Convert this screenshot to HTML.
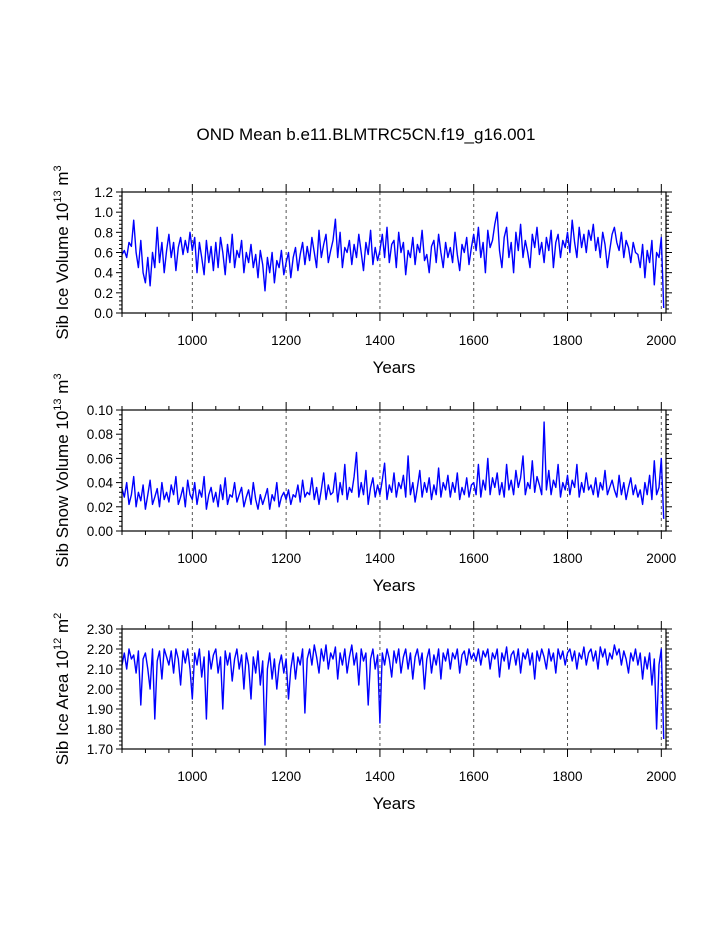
<!DOCTYPE html>
<html><head><meta charset="utf-8"><style>
body{margin:0;background:#fff}
svg{display:block;font-family:"Liberation Sans",sans-serif}
</style></head><body>
<svg id="chart" width="723" height="935" xmlns="http://www.w3.org/2000/svg">
<text x="366" y="140" font-size="17" text-anchor="middle">OND Mean b.e11.BLMTRC5CN.f19_g16.001</text>
</svg>
<script>
const years0 = 850, yearStep = 5;
const xTicks = [1000,1200,1400,1600,1800,2000];
const iceVolume = [.58,.62,.55,.70,.66,.92,.60,.45,.72,.40,
.30,.55,.27,.60,.45,.85,.50,.70,.40,.62,
.78,.55,.70,.42,.65,.75,.58,.72,.60,.80,
.62,.75,.40,.70,.55,.38,.72,.50,.66,.42,
.70,.45,.75,.60,.38,.68,.50,.78,.45,.62,
.55,.72,.40,.60,.50,.68,.45,.58,.35,.62,
.48,.22,.55,.40,.60,.30,.52,.45,.62,.38,
.50,.60,.35,.55,.65,.42,.58,.70,.48,.66,
.52,.75,.60,.45,.82,.55,.68,.78,.50,.62,
.72,.93,.55,.80,.45,.65,.60,.72,.48,.68,
.55,.78,.60,.42,.70,.58,.82,.48,.65,.52,
.62,.78,.55,.85,.50,.68,.72,.45,.80,.60,
.70,.38,.62,.55,.75,.48,.68,.60,.82,.52,
.58,.40,.66,.72,.50,.78,.60,.45,.70,.55,
.65,.50,.80,.58,.42,.68,.60,.75,.48,.65,
.78,.62,.85,.55,.70,.40,.82,.65,.72,.88,
1.0,.62,.45,.75,.85,.55,.70,.40,.80,.62,
.88,.55,.72,.60,.45,.78,.65,.85,.58,.70,
.50,.75,.62,.82,.45,.70,.78,.55,.72,.65,
.80,.60,.92,.70,.55,.85,.65,.78,.60,.82,
.72,.88,.62,.75,.55,.80,.68,.45,.62,.78,
.85,.70,.62,.80,.55,.72,.65,.50,.70,.60,
.58,.45,.68,.35,.62,.50,.72,.28,.60,.55,
.75,.05];
const snowVolume = [.035,.028,.040,.022,.030,.045,.020,.032,.025,.038,
.018,.030,.042,.022,.028,.035,.020,.040,.026,.032,
.024,.038,.030,.045,.022,.028,.036,.020,.042,.030,
.026,.040,.022,.034,.028,.045,.018,.030,.036,.024,
.032,.020,.038,.026,.044,.022,.030,.028,.040,.024,
.030,.036,.020,.028,.034,.022,.040,.026,.018,.030,
.022,.028,.035,.018,.030,.025,.040,.020,.028,.032,
.026,.034,.022,.030,.028,.038,.024,.042,.028,.032,
.030,.044,.026,.036,.022,.034,.048,.026,.038,.030,
.032,.048,.024,.040,.030,.055,.026,.036,.032,.045,
.065,.028,.040,.030,.050,.022,.036,.044,.028,.038,
.030,.042,.056,.026,.038,.032,.048,.028,.040,.035,
.046,.028,.062,.030,.040,.024,.036,.050,.028,.040,
.032,.044,.026,.038,.030,.052,.028,.040,.034,.046,
.028,.040,.032,.048,.026,.036,.030,.044,.028,.038,
.040,.030,.055,.028,.042,.034,.060,.030,.044,.036,
.048,.030,.040,.028,.055,.034,.042,.030,.050,.036,
.044,.062,.030,.040,.035,.058,.032,.045,.038,.030,
.090,.034,.050,.030,.042,.036,.055,.028,.040,.034,
.046,.030,.042,.036,.055,.028,.040,.032,.048,.034,
.038,.030,.044,.028,.040,.034,.050,.030,.036,.042,
.034,.028,.046,.030,.040,.026,.036,.044,.030,.038,
.028,.034,.022,.040,.030,.046,.026,.058,.030,.036,
.060,.010];
const iceArea = [2.12,2.18,2.10,2.20,2.15,2.17,2.08,2.19,1.92,2.15,
2.18,2.10,2.00,2.20,1.85,2.14,2.19,2.05,2.20,2.16,
2.12,2.19,2.08,2.20,2.15,2.02,2.19,2.13,2.20,2.10,
1.95,2.18,2.12,2.20,2.06,2.16,1.85,2.19,2.10,2.17,
2.20,2.08,2.16,1.90,2.19,2.12,2.18,2.04,2.15,2.20,
2.10,2.17,2.00,2.18,2.12,1.95,2.16,2.08,2.19,2.02,
2.14,1.72,2.10,2.18,2.05,2.15,2.00,2.12,2.17,2.08,
2.15,1.95,2.10,2.18,2.05,2.16,2.12,2.20,1.88,2.15,
2.20,2.12,2.22,2.16,2.08,2.20,2.14,2.22,2.10,2.18,
2.15,2.21,2.05,2.18,2.12,2.20,2.08,2.16,2.22,2.12,
2.18,2.02,2.20,2.14,2.18,1.92,2.15,2.20,2.10,2.17,
1.83,2.18,2.12,2.20,2.15,2.06,2.19,2.13,2.20,2.08,
2.16,2.20,2.10,2.18,2.05,2.16,2.20,2.12,2.18,2.00,
2.15,2.20,2.08,2.17,2.12,2.20,2.05,2.18,2.14,2.20,
2.10,2.18,2.15,2.20,2.08,2.17,2.19,2.12,2.20,2.15,
2.18,2.14,2.20,2.12,2.19,2.16,2.20,2.10,2.18,2.15,
2.20,2.06,2.18,2.14,2.21,2.10,2.17,2.19,2.12,2.20,
2.08,2.18,2.15,2.20,2.12,2.18,2.05,2.19,2.14,2.20,
2.16,2.10,2.20,2.14,2.18,2.08,2.20,2.15,2.19,2.12,
2.18,2.20,2.14,2.19,2.10,2.18,2.15,2.21,2.12,2.18,
2.20,2.14,2.19,2.10,2.21,2.16,2.20,2.12,2.18,2.15,
2.22,2.17,2.20,2.12,2.19,2.15,2.08,2.18,2.14,2.20,
2.12,2.18,2.05,2.16,2.10,2.18,2.02,2.15,1.80,2.12,
2.20,1.75];
const yTicks1 = ["0.0","0.2","0.4","0.6","0.8","1.0","1.2"];
const yTicks2 = ["0.00","0.02","0.04","0.06","0.08","0.10"];
const yTicks3 = ["1.70","1.80","1.90","2.00","2.10","2.20","2.30"];

const NS="http://www.w3.org/2000/svg";
const svg=document.getElementById('chart');
const X0=122,X1=666,XMIN=850,XMAX=2010;
function xs(v){return X0+(v-XMIN)/(XMAX-XMIN)*(X1-X0);}
function mk(tag,attrs,parent){const e=document.createElementNS(NS,tag);for(const k in attrs)e.setAttribute(k,attrs[k]);(parent||svg).appendChild(e);return e;}

function panel(name,top,bot,ticks,data,titleMain,unitExp,unit,ylab){
  const g=mk('g',{});
  
  
  const ymin=parseFloat(ticks[0]),ymax=parseFloat(ticks[ticks.length-1]);
  const ys=v=>bot-(v-ymin)/(ymax-ymin)*(bot-top);
  xTicks.forEach(t=>{
    const l=mk('line',{x1:xs(t),x2:xs(t),y1:top,y2:bot,stroke:'#555','stroke-width':1,'stroke-dasharray':'3,3'},g);
    
    
  });
  let d='';
  data.forEach((v,i)=>{d+=(i?'L':'M')+xs(years0+i*yearStep).toFixed(1)+','+ys(v).toFixed(1);});
  const p=mk('path',{d:d,fill:'none',stroke:'#0000ff','stroke-width':1.4,'stroke-linejoin':'round'},g);
  
  
  const f=mk('rect',{x:X0,y:top,width:X1-X0,height:bot-top,fill:'none',stroke:'#000','stroke-width':1.2},g);
  
  
  for(let t=850;t<=2010;t+=50){
    const major=t%200===0, len=major?8:4;
    mk('line',{x1:xs(t),x2:xs(t),y1:top,y2:top-len,stroke:'#000','stroke-width':1},g);
    mk('line',{x1:xs(t),x2:xs(t),y1:bot,y2:bot+len,stroke:'#000','stroke-width':1},g);
  }
  xTicks.forEach(t=>{
    const tx=mk('text',{x:xs(t),y:bot+32,'font-size':13.5,'text-anchor':'middle'},g);
    tx.textContent=t;
    
    
  });
  const n=ticks.length-1, sub=(ymax-ymin)/n/5;
  for(let k=0;k<=n*5;k++){
    const v=ymin+k*sub, y=ys(v), len=k%5===0?6:3;
    mk('line',{x1:X0,x2:X0-len,y1:y,y2:y,stroke:'#000','stroke-width':1},g);
    mk('line',{x1:X1,x2:X1+len,y1:y,y2:y,stroke:'#000','stroke-width':1},g);
  }
  ticks.forEach(t=>{
    const tx=mk('text',{x:X0-9,y:ys(parseFloat(t))+5,'font-size':13.5,'text-anchor':'end'},g);
    tx.textContent=t;
    
    
  });
  const xt=mk('text',{x:394,y:bot+60,'font-size':17,'text-anchor':'middle'},g);
  xt.textContent='Years';
  
  
  const cy=(top+bot)/2;
  const yt=mk('text',{x:0,y:0,'font-size':17,'text-anchor':'middle',transform:`translate(${ylab},${cy}) rotate(-90)`},g);
  
  
  const s1=mk('tspan',{},yt);s1.textContent=titleMain;
  const s2=mk('tspan',{dy:-7,'font-size':11},yt);s2.textContent=unitExp;
  const s3=mk('tspan',{dy:7},yt);s3.textContent=' m';
  const s4=mk('tspan',{dy:-7,'font-size':11},yt);s4.textContent=unit;
}
panel('ice-volume',192,313,yTicks1,iceVolume,'Sib Ice Volume 10','13','3',68);
panel('snow-volume',410,531,yTicks2,snowVolume,'Sib Snow Volume 10','13','3',68);
panel('ice-area',629,749,yTicks3,iceArea,'Sib Ice Area 10','12','2',68);
</script>
</body></html>
